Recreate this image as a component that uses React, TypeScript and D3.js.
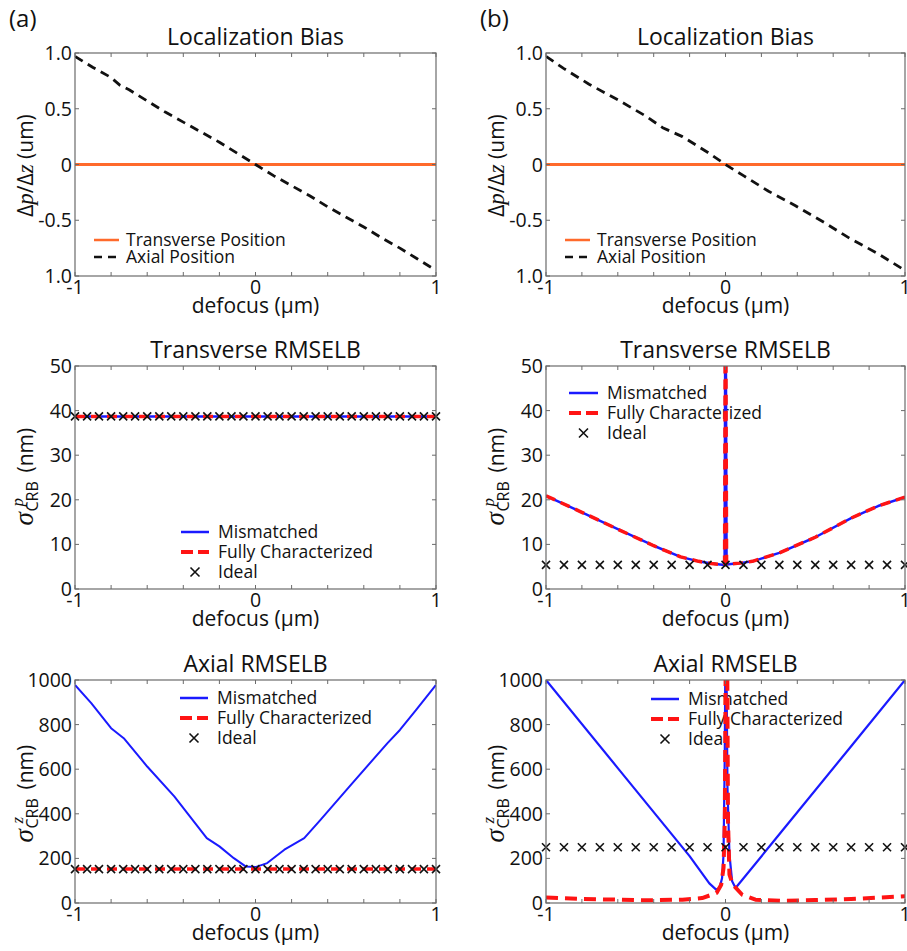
import * as d3 from "d3";

const SANS = "'Open Sans', 'Noto Sans', sans-serif";
const SERIF = "'Liberation Serif', 'DejaVu Serif', serif";
const FRAME = "#6b6b6b";
const ORANGE = "#ff6a2b";
const BLUE = "#1a1aff";
const RED = "#ff1414";

const PLOT_H = 223;

// ---- Localization bias (top row) ----
const biasXA = [-1, -0.9, -0.8, -0.75, -0.7, -0.6, -0.5, -0.4, -0.3, -0.2, -0.1, 0, 0.1, 0.2, 0.3, 0.4, 0.5, 0.6, 0.7, 0.8, 0.9, 1];
const axialBiasA = [0.97, 0.87, 0.78, 0.71, 0.67, 0.57, 0.47, 0.38, 0.29, 0.2, 0.1, 0.0, -0.1, -0.19, -0.28, -0.38, -0.47, -0.56, -0.66, -0.75, -0.85, -0.95];
const biasXB = [-1, -0.9, -0.76, -0.6, -0.45, -0.35, -0.24, -0.1, 0, 0.1, 0.24, 0.39, 0.55, 0.69, 0.85, 1];
const axialBiasB = [0.97, 0.86, 0.72, 0.58, 0.44, 0.33, 0.25, 0.11, 0.0, -0.1, -0.24, -0.37, -0.52, -0.66, -0.8, -0.95];
const transverseBiasX = [-1, 1];
const transverseBiasY = [0, 0];

// ---- Transverse RMSELB (middle row) ----
const tvXA = [-1, 1];
const tvMismatchA = [38.7, 38.7];
const tvFullA = [38.7, 38.7];
const idealXA = [
  -1, -0.933, -0.867, -0.8, -0.733, -0.667, -0.6, -0.533, -0.467, -0.4, -0.333, -0.267, -0.2, -0.133, -0.067, 0,
  0.067, 0.133, 0.2, 0.267, 0.333, 0.4, 0.467, 0.533, 0.6, 0.667, 0.733, 0.8, 0.867, 0.933, 1,
];
const tvIdealA = 38.7;

const tvXB = [-1, -0.8, -0.6, -0.4, -0.25, -0.15, -0.08, -0.03, -0.005, 0, 0.006, 0.03, 0.08, 0.15, 0.3, 0.5, 0.7, 0.85, 1];
const tvMismatchB = [20.9, 17.2, 13.4, 9.7, 7.2, 6.2, 5.7, 5.5, 5.4, 80, 5.5, 5.6, 5.8, 6.2, 8.1, 11.6, 15.9, 18.6, 20.6];
const tvFullB = [20.9, 17.2, 13.4, 9.7, 7.2, 6.2, 5.7, 5.5, 5.4, 80, 5.5, 5.6, 5.8, 6.2, 8.1, 11.6, 15.9, 18.6, 20.6];
const idealXB = [-1, -0.9, -0.8, -0.7, -0.6, -0.5, -0.4, -0.3, -0.2, -0.1, 0, 0.1, 0.2, 0.3, 0.4, 0.5, 0.6, 0.7, 0.8, 0.9, 1];
const tvIdealB = 5.4;

// ---- Axial RMSELB (bottom row) ----
const axXA = [-1, -0.91, -0.8, -0.73, -0.6, -0.45, -0.27, -0.2, -0.12, -0.055, 0, 0.065, 0.16, 0.27, 0.36, 0.52, 0.73, 0.8, 0.89, 1];
const axMismatchA = [978, 896, 784, 739, 612, 478, 291, 254, 201, 164, 161, 179, 239, 291, 373, 522, 716, 776, 866, 978];
const axFullXA = [-1, 1];
const axFullA = [152, 152];
const axIdealA = 152;

const axXB = [-1, -0.6, -0.2, -0.09, -0.052, -0.033, -0.019, -0.011, -0.004, 0, 0.004, 0.011, 0.022, 0.037, 0.056, 0.3, 0.7, 1];
const axMismatchB = [1000, 605, 210, 88, 60, 67, 112, 217, 667, 1200, 1200, 517, 217, 97, 67, 308, 703, 1000];
const axFullXB = [-1, -0.8, -0.6, -0.43, -0.24, -0.13, -0.05, -0.024, -0.011, -0.004, 0.002, 0.009, 0.014, 0.022, 0.041, 0.093, 0.167, 0.315, 0.5, 0.7, 1];
const axFullB = [25, 18, 15, 12, 15, 22, 45, 82, 157, 367, 1200, 1200, 367, 127, 82, 37, 15, 10, 13, 18, 30];
const axIdealB = 250;

// ---- ticks ----
const xTicks = [-1, -0.8, -0.6, -0.4, -0.2, 0, 0.2, 0.4, 0.6, 0.8, 1];
const xTickLabelValues = [-1, 0, 1];
const xTickLabels = ["-1", "0", "1"];
const biasTicks = [1, 0.5, 0, -0.5, -1];
const biasTickLabels = ["1.0", "0.5", "0", "-0.5", "1.0"];
const tvTicks = [0, 10, 20, 30, 40, 50];
const tvTickLabels = ["0", "10", "20", "30", "40", "50"];
const axTicks = [0, 200, 400, 600, 800, 1000];
const axTickLabels = ["0", "200", "400", "600", "800", "1000"];

const biasLegend = ["Transverse Position", "Axial Position"];
const rmseLegend = ["Mismatched", "Fully Characterized", "Ideal"];

type Series = { x: number[]; y: number[]; color: string; width: number; dash?: string };
type LegendItem = { label: string; kind: "line" | "x"; color: string; width?: number; dash?: string };
type PanelProps = {
  id: string;
  left: number;
  top: number;
  width: number;
  yDomain: [number, number];
  yTicks: number[];
  yTickLabels: string[];
  title: string;
  yLabel: "bias" | "p" | "z";
  series: Series[];
  ideal?: { x: number[]; level: number };
  legend: { x0: number; x1: number; tx: number; y: number; gap: number; items: LegendItem[] };
};

function Cross({ cx, cy, r }: { cx: number; cy: number; r: number }) {
  return (
    <path d={`M${cx - r},${cy - r}L${cx + r},${cy + r}M${cx - r},${cy + r}L${cx + r},${cy - r}`} stroke="#111" strokeWidth="1.6" fill="none" />
  );
}

function YLabel({ kind, cx, cy }: { kind: "bias" | "p" | "z"; cx: number; cy: number }) {
  if (kind === "bias") {
    return (
      <text transform={`translate(${cx} ${cy}) rotate(-90)`} textAnchor="middle" fontFamily={SANS} fontSize="21" fill="#111">
        Δ<tspan fontFamily={SERIF} fontStyle="italic" fontSize="23">p</tspan>/Δ<tspan fontFamily={SERIF} fontStyle="italic" fontSize="23">z</tspan> (um)
      </text>
    );
  }
  return (
    <g transform={`translate(${cx} ${cy}) rotate(-90)`} fill="#111">
      <text x="-47" y="0" fontFamily={SERIF} fontStyle="italic" fontSize="27">σ</text>
      <text x="-28" y="-10" fontFamily={SERIF} fontStyle="italic" fontSize="17">{kind}</text>
      <text x="-33" y="5" fontFamily={SANS} fontSize="16">CRB</text>
      <text x="6" y="0" fontFamily={SANS} fontSize="21">(nm)</text>
    </g>
  );
}

function Panel(props: PanelProps) {
  const { id, left, top, width, yDomain, yTicks, yTickLabels, title, yLabel, series, ideal, legend } = props;
  const x = d3.scaleLinear().domain([-1, 1]).range([0, width]);
  const y = d3.scaleLinear().domain(yDomain).range([PLOT_H, 0]);
  const line = d3.line<[number, number]>().x((d) => x(d[0])).y((d) => y(d[1]));

  return (
    <g transform={`translate(${left} ${top})`}>
      <defs>
        <clipPath id={`clip-${id}`}>
          <rect x="0" y="0" width={width} height={PLOT_H} />
        </clipPath>
      </defs>
      <rect x="0" y="0" width={width} height={PLOT_H} fill="#fff" />
      <text x={width / 2} y="-8" textAnchor="middle" fontFamily={SANS} fontSize="23" fill="#111">
        {title}
      </text>

      {legend.items.map((item, i) => {
        const ly = legend.y + i * legend.gap;
        return (
          <g key={item.label}>
            {item.kind === "line" ? (
              <line x1={legend.x0} x2={legend.x1} y1={ly} y2={ly} stroke={item.color} strokeWidth={item.width ?? 2} strokeDasharray={item.dash} />
            ) : (
              <Cross cx={(legend.x0 + legend.x1) / 2} cy={ly} r={4.5} />
            )}
            <text x={legend.tx} y={ly + 6} fontFamily={SANS} fontSize="17.5" fill="#111">
              {item.label}
            </text>
          </g>
        );
      })}

      <g clipPath={`url(#clip-${id})`}>
        {series.map((s, i) => (
          <path
            key={i}
            d={line(s.x.map((v, k) => [v, s.y[k]] as [number, number])) ?? undefined}
            fill="none"
            stroke={s.color}
            strokeWidth={s.width}
            strokeDasharray={s.dash}
            strokeLinejoin="round"
          />
        ))}
      </g>
      {ideal && ideal.x.map((v, i) => <Cross key={i} cx={x(v)} cy={y(ideal.level)} r={4} />)}

      <rect x="0" y="0" width={width} height={PLOT_H} fill="none" stroke={FRAME} strokeWidth="1.2" />
      {xTicks.map((t) => (
        <g key={t} stroke={FRAME} strokeWidth="1">
          <line x1={x(t)} x2={x(t)} y1={PLOT_H} y2={PLOT_H - 4} />
          <line x1={x(t)} x2={x(t)} y1={0} y2={4} />
        </g>
      ))}
      {yTicks.map((t) => (
        <g key={t} stroke={FRAME} strokeWidth="1">
          <line x1={0} x2={4} y1={y(t)} y2={y(t)} />
          <line x1={width} x2={width - 4} y1={y(t)} y2={y(t)} />
        </g>
      ))}
      {yTicks.map((t, i) => (
        <text key={t} x={-3} y={y(t)} dy="0.36em" textAnchor="end" fontFamily={SANS} fontSize="19.5" fill="#111">
          {yTickLabels[i]}
        </text>
      ))}
      {xTickLabelValues.map((t, i) => (
        <text key={t} x={x(t)} y={PLOT_H + 18} textAnchor="middle" fontFamily={SANS} fontSize="19.5" fill="#111">
          {xTickLabels[i]}
        </text>
      ))}
      <text x={width / 2} y={PLOT_H + 37} textAnchor="middle" fontFamily={SANS} fontSize="21" fill="#111">
        defocus (μm)
      </text>
      <YLabel kind={yLabel} cx={-42} cy={PLOT_H / 2 + (yLabel === "z" ? 4 : 1)} />
    </g>
  );
}

const rmseItems: LegendItem[] = [
  { label: rmseLegend[0], kind: "line", color: BLUE, width: 2.5 },
  { label: rmseLegend[1], kind: "line", color: RED, width: 4, dash: "12 5" },
  { label: rmseLegend[2], kind: "x", color: "#111" },
];
const biasItems: LegendItem[] = [
  { label: biasLegend[0], kind: "line", color: ORANGE, width: 2.5 },
  { label: biasLegend[1], kind: "line", color: "#111", width: 2.5, dash: "8 6" },
];

export default function App() {
  const LA = 75;
  const LB = 546;
  const WA = 361;
  const WB = 359;
  return (
    <svg width="907" height="951" viewBox="0 0 907 951" style={{ position: "absolute", left: 0, top: 0, background: "#fff" }}>
      <rect width="907" height="951" fill="#fff" />
      <text x="9" y="27" fontFamily={SANS} fontSize="24" fill="#111">(a)</text>
      <text x="480" y="27" fontFamily={SANS} fontSize="24" fill="#111">(b)</text>

      <Panel
        id="a1"
        left={LA}
        top={53}
        width={WA}
        yDomain={[-1, 1]}
        yTicks={biasTicks}
        yTickLabels={biasTickLabels}
        title="Localization Bias"
        yLabel="bias"
        series={[
          { x: transverseBiasX, y: transverseBiasY, color: ORANGE, width: 3 },
          { x: biasXA, y: axialBiasA, color: "#111", width: 2.8, dash: "9 6" },
        ]}
        legend={{ x0: 19, x1: 44, tx: 51, y: 187, gap: 17, items: biasItems }}
      />
      <Panel
        id="b1"
        left={LB}
        top={53}
        width={WB}
        yDomain={[-1, 1]}
        yTicks={biasTicks}
        yTickLabels={biasTickLabels}
        title="Localization Bias"
        yLabel="bias"
        series={[
          { x: transverseBiasX, y: transverseBiasY, color: ORANGE, width: 3 },
          { x: biasXB, y: axialBiasB, color: "#111", width: 2.8, dash: "9 6" },
        ]}
        legend={{ x0: 19, x1: 44, tx: 51, y: 187, gap: 17, items: biasItems }}
      />

      <Panel
        id="a2"
        left={LA}
        top={366}
        width={WA}
        yDomain={[0, 50]}
        yTicks={tvTicks}
        yTickLabels={tvTickLabels}
        title="Transverse RMSELB"
        yLabel="p"
        series={[
          { x: tvXA, y: tvMismatchA, color: BLUE, width: 2.5 },
          { x: tvXA, y: tvFullA, color: RED, width: 3.5, dash: "10 6" },
        ]}
        ideal={{ x: idealXA, level: tvIdealA }}
        legend={{ x0: 106, x1: 134, tx: 143, y: 166, gap: 20, items: rmseItems }}
      />
      <Panel
        id="b2"
        left={LB}
        top={366}
        width={WB}
        yDomain={[0, 50]}
        yTicks={tvTicks}
        yTickLabels={tvTickLabels}
        title="Transverse RMSELB"
        yLabel="p"
        series={[
          { x: tvXB, y: tvMismatchB, color: BLUE, width: 2.5 },
          { x: tvXB, y: tvFullB, color: RED, width: 3.5, dash: "10 6" },
        ]}
        ideal={{ x: idealXB, level: tvIdealB }}
        legend={{ x0: 23, x1: 52, tx: 61, y: 27, gap: 20, items: rmseItems }}
      />

      <Panel
        id="a3"
        left={LA}
        top={680}
        width={WA}
        yDomain={[0, 1000]}
        yTicks={axTicks}
        yTickLabels={axTickLabels}
        title="Axial RMSELB"
        yLabel="z"
        series={[
          { x: axXA, y: axMismatchA, color: BLUE, width: 2 },
          { x: axFullXA, y: axFullA, color: RED, width: 3.5, dash: "10 6" },
        ]}
        ideal={{ x: idealXA, level: axIdealA }}
        legend={{ x0: 105, x1: 133, tx: 142, y: 18, gap: 20, items: rmseItems }}
      />
      <Panel
        id="b3"
        left={LB}
        top={680}
        width={WB}
        yDomain={[0, 1000]}
        yTicks={axTicks}
        yTickLabels={axTickLabels}
        title="Axial RMSELB"
        yLabel="z"
        series={[
          { x: axXB, y: axMismatchB, color: BLUE, width: 2.2 },
          { x: axFullXB, y: axFullB, color: RED, width: 4, dash: "12 7" },
        ]}
        ideal={{ x: idealXB, level: axIdealB }}
        legend={{ x0: 105, x1: 133, tx: 142, y: 19, gap: 20, items: rmseItems }}
      />
    </svg>
  );
}
